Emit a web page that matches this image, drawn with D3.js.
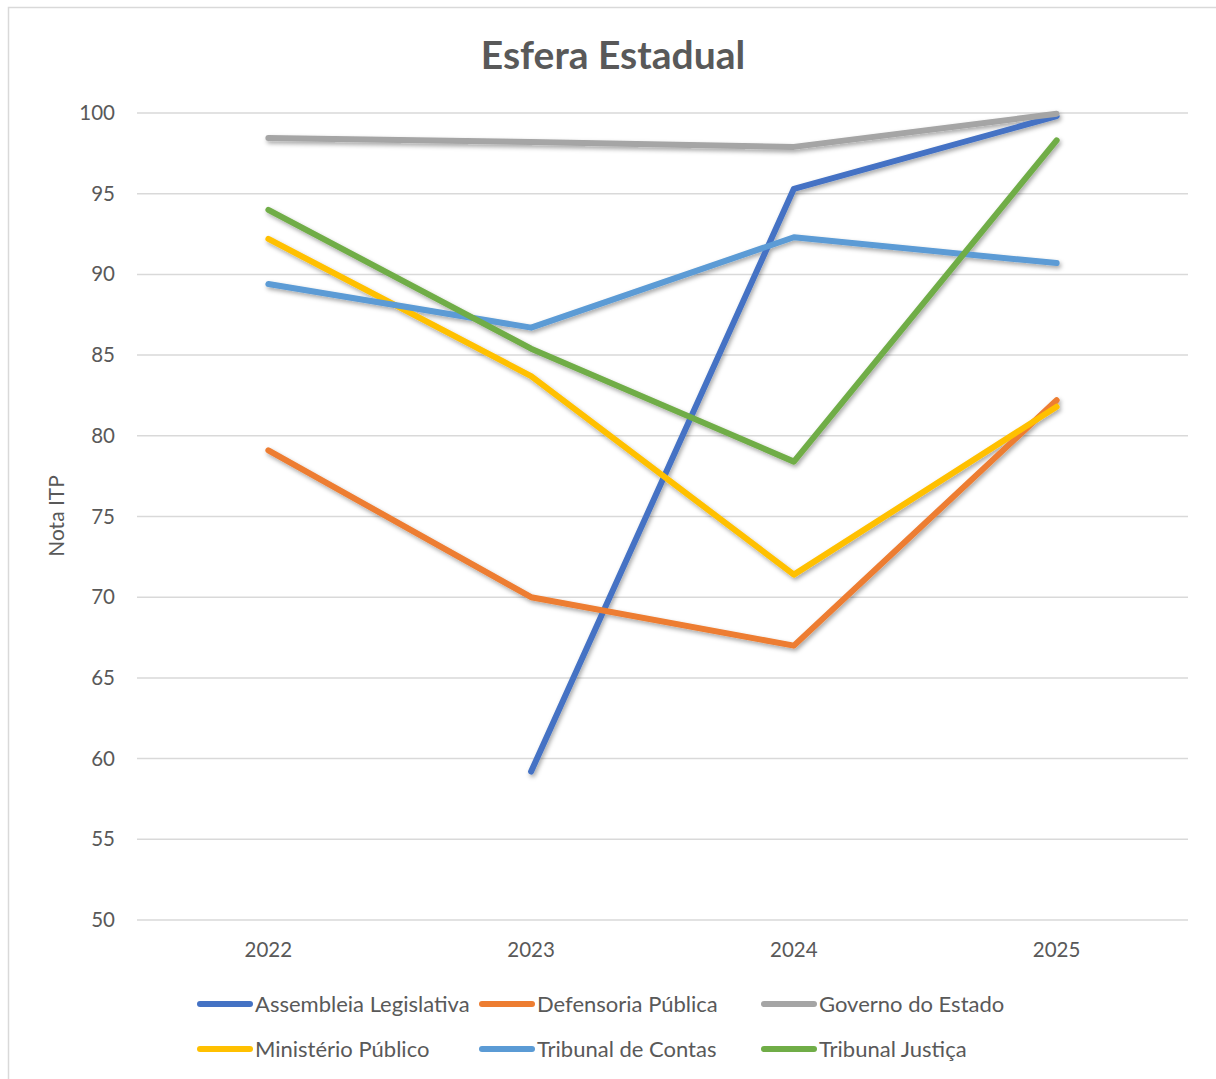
<!DOCTYPE html>
<html><head><meta charset="utf-8">
<script src="https://cdn.jsdelivr.net/npm/d3@7"></script>
<style>html,body{margin:0;padding:0;background:#fff;}svg{display:block;}</style>
</head><body>
<svg id="chart" width="1216" height="1079"></svg>
<script>
const years = ["2022","2023","2024","2025"];
const yTicks = [50,55,60,65,70,75,80,85,90,95,100];
const seriesNames = ["Assembleia Legislativa","Defensoria Pública","Governo do Estado","Ministério Público","Tribunal de Contas","Tribunal Justiça"];
const seriesColors = ["#4472C4","#ED7D31","#A5A5A5","#FFC000","#5B9BD5","#70AD47"];
const assembleia = [null, 59.2, 95.3, 99.8];
const defensoria = [79.1, 70.0, 67.0, 82.2];
const governo = [98.45, 98.2, 97.9, 99.95];
const ministerio = [92.2, 83.7, 71.4, 81.8];
const tribContas = [89.4, 86.7, 92.3, 90.7];
const tribJustica = [94.0, 85.4, 78.4, 98.3];
const seriesValues = [assembleia, defensoria, governo, ministerio, tribContas, tribJustica];

const svg = d3.select("#chart");
const font = "Lato, 'Open Sans', sans-serif";
const textColor = "#595959";

svg.append("rect").attr("x",8.5).attr("y",7.5).attr("width",1230).attr("height",1100)
  .attr("fill","#fff").attr("stroke","#D9D9D9").attr("stroke-width",1.5);

const defs = svg.append("defs");
const f = defs.append("filter").attr("id","shadow").attr("x","-10%").attr("y","-10%").attr("width","120%").attr("height","130%");
f.append("feDropShadow").attr("dx",1.5).attr("dy",2.5).attr("stdDeviation",2).attr("flood-color","#000").attr("flood-opacity",0.35);

const plot = {left:137, right:1188, top:113, bottom:920};
const x = d3.scaleBand().domain(years).range([plot.left, plot.right]);
const y = d3.scaleLinear().domain([50,100]).range([plot.bottom, plot.top]);

// gridlines
svg.append("g").selectAll("line").data(yTicks).join("line")
  .attr("x1",plot.left).attr("x2",plot.right)
  .attr("y1",d=>y(d)).attr("y2",d=>y(d))
  .attr("stroke","#D9D9D9").attr("stroke-width",1.5);

// y axis
const yAxis = svg.append("g").attr("transform",`translate(${plot.left},0)`)
  .call(d3.axisLeft(y).tickValues(yTicks).tickSize(0).tickPadding(22));
yAxis.select(".domain").remove();
yAxis.selectAll("text").attr("font-family",font).attr("font-size",20.5).attr("fill",textColor);

// x axis
const xAxis = svg.append("g").attr("transform",`translate(0,${plot.bottom})`)
  .call(d3.axisBottom(x).tickSize(0).tickPadding(22));
xAxis.select(".domain").remove();
xAxis.selectAll("text").attr("font-family",font).attr("font-size",20.5).attr("fill",textColor);

// title
svg.append("text").attr("x",613).attr("y",69).attr("text-anchor","middle")
  .attr("font-family",font).attr("font-weight","bold").attr("font-size",39).attr("fill",textColor)
  .text("Esfera Estadual");

// y label
svg.append("text").attr("transform","translate(64,516) rotate(-90)").attr("text-anchor","middle")
  .attr("font-family",font).attr("font-size",21).attr("fill",textColor).text("Nota ITP");

// lines
const line = d3.line().defined(d=>d.v!=null).x(d=>x(d.year)+x.bandwidth()/2).y(d=>y(d.v));
const lg = svg.append("g").attr("filter","url(#shadow)");
seriesValues.forEach((vals,i)=>{
  lg.append("path").datum(years.map((yr,j)=>({year:yr,v:vals[j]})))
    .attr("d",line).attr("fill","none").attr("stroke",seriesColors[i])
    .attr("stroke-width",6).attr("stroke-linecap","round").attr("stroke-linejoin","round");
});

// legend
const legX = [198,480,762], legY = [1004,1049];
seriesNames.forEach((name,i)=>{
  const cx = legX[i%3], cy = legY[Math.floor(i/3)];
  svg.append("line").attr("x1",cx+2).attr("x2",cx+52).attr("y1",cy).attr("y2",cy)
    .attr("stroke",seriesColors[i]).attr("stroke-width",6).attr("stroke-linecap","round");
  svg.append("text").attr("x",cx+57).attr("y",cy).attr("dy","0.35em")
    .attr("font-family",font).attr("font-size",22).attr("fill",textColor).text(name);
});
</script>
</body></html>
